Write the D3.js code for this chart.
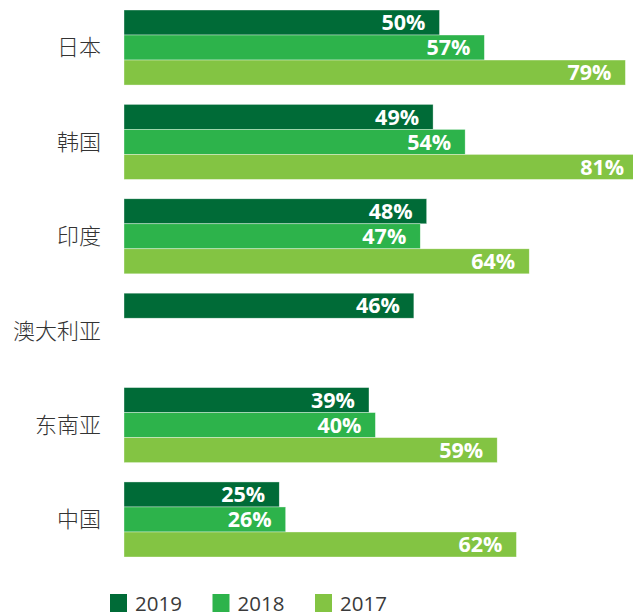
<!DOCTYPE html>
<html>
<head>
<meta charset="utf-8">
<script src="https://cdn.jsdelivr.net/npm/d3@7"></script>
<style>
  body { margin: 0; background: #fff; }
  svg { display: block; overflow: visible; }
</style>
</head>
<body>
<div id="container"></div>
<script>
const regions = ["日本", "韩国", "印度", "澳大利亚", "东南亚", "中国"];
const years = ["2019", "2018", "2017"];
const v2019 = [50, 49, 48, 46, 39, 25];
const v2018 = [57, 54, 47, null, 40, 26];
const v2017 = [79, 81, 64, null, 59, 62];
const colors = ["#006b37", "#2db34b", "#83c443"];

const width = 633;
const height = 615;
const plotLeft = 124;

const rows = regions.map((r, i) => ({
  region: r,
  values: [v2019[i], v2018[i], v2017[i]]
}));

// Percent scale (0 sits a touch left of where bars start in the original)
const x = d3.scaleLinear().domain([0, 100]).range([119, 760]);

const y = d3.scaleBand()
  .domain(regions)
  .range([10, 557])
  .paddingInner(0.205)
  .paddingOuter(0);

const yInner = d3.scaleBand()
  .domain(years)
  .range([0, y.bandwidth()]);

const svg = d3.select("#container").append("svg")
  .attr("width", width)
  .attr("height", height);

const group = svg.append("g")
  .selectAll("g")
  .data(rows)
  .join("g")
  .attr("transform", d => `translate(0,${y(d.region)})`);

const bars = group.selectAll("g.bar")
  .data(d => d.values.map((v, j) => ({year: years[j], v, j})).filter(e => e.v != null))
  .join("g")
  .attr("class", "bar");

bars.append("rect")
  .attr("x", plotLeft)
  .attr("y", d => yInner(d.year))
  .attr("width", d => x(d.v) - plotLeft)
  .attr("height", yInner.bandwidth())
  .attr("fill", d => colors[d.j])
  .attr("stroke", "#ffffff")
  .attr("stroke-opacity", 0.6)
  .attr("stroke-width", 0.6);

bars.append("text")
  .attr("x", d => x(d.v) - 14)
  .attr("y", d => yInner(d.year) + yInner.bandwidth() / 2)
  .attr("dy", "0.36em")
  .attr("text-anchor", "end")
  .attr("fill", "#fff")
  .attr("font-family", "'Open Sans', sans-serif")
  .attr("font-weight", 700)
  .attr("font-size", 21.5)
  .text(d => d.v + "%");

// Category labels
svg.append("g")
  .selectAll("text")
  .data(regions)
  .join("text")
  .attr("x", 101)
  .attr("y", d => y(d) + y.bandwidth() / 2)
  .attr("dy", "0.36em")
  .attr("text-anchor", "end")
  .attr("fill", "#333")
  .attr("font-family", "'Noto Sans CJK SC', sans-serif")
  .attr("font-weight", 300)
  .attr("font-size", 22)
  .text(d => d);

// Legend
const legend = svg.append("g")
  .attr("transform", "translate(110,594)")
  .selectAll("g")
  .data(years)
  .join("g")
  .attr("transform", (d, i) => `translate(${i * 102.5},0)`);

legend.append("rect")
  .attr("width", 17)
  .attr("height", 18)
  .attr("fill", (d, i) => colors[i]);

legend.append("text")
  .attr("x", 25)
  .attr("y", 16.5)
  .attr("fill", "#3a3a3a")
  .attr("font-family", "'Open Sans', sans-serif")
  .attr("font-size", 20.5)
  .text(d => d);
</script>
</body>
</html>
